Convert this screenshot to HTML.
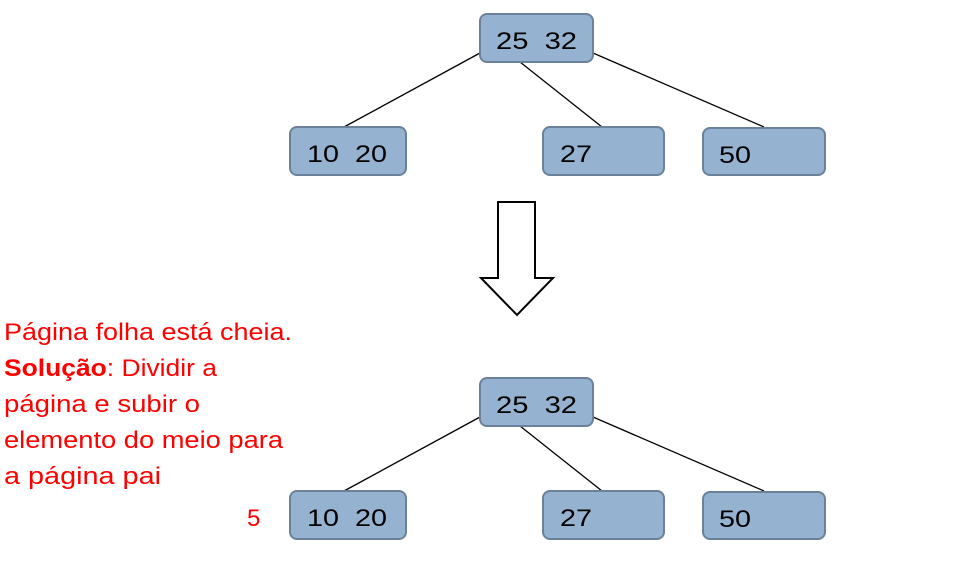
<!DOCTYPE html>
<html><head><meta charset="utf-8"><style>
html,body{margin:0;padding:0;background:#fff;width:964px;height:570px;overflow:hidden}
svg{display:block}
.n{font-family:"Liberation Sans",sans-serif;font-size:24px;fill:#000}
.r{font-family:"Liberation Sans",sans-serif;font-size:24px;fill:#ff0000}
rect{fill:#95b3d0;stroke:#6a8199;stroke-width:2}
line{stroke:#000;stroke-width:1.3}
</style></head><body>
<svg width="964" height="570" viewBox="0 0 964 570">
<g>
<line x1="480" y1="53" x2="344" y2="127"/>
<line x1="520" y1="62" x2="602" y2="127"/>
<line x1="593" y1="53" x2="764" y2="127"/>
<rect x="480" y="14" width="113" height="48" rx="7"/>
<rect x="290" y="127" width="116" height="48" rx="7"/>
<rect x="543" y="127" width="121" height="48" rx="7"/>
<rect x="703" y="128" width="122" height="47" rx="7"/>
<text class="n" x="496" y="49" textLength="81" lengthAdjust="spacingAndGlyphs">25&#160;&#160;32</text>
<text class="n" x="307" y="162" textLength="80" lengthAdjust="spacingAndGlyphs">10&#160;&#160;20</text>
<text class="n" x="560" y="162" textLength="32" lengthAdjust="spacingAndGlyphs">27</text>
<text class="n" x="719" y="163" textLength="32" lengthAdjust="spacingAndGlyphs">50</text>
</g>
<g transform="translate(0,364)">
<line x1="480" y1="53" x2="344" y2="127"/>
<line x1="520" y1="62" x2="602" y2="127"/>
<line x1="593" y1="53" x2="764" y2="127"/>
<rect x="480" y="14" width="113" height="48" rx="7"/>
<rect x="290" y="127" width="116" height="48" rx="7"/>
<rect x="543" y="127" width="121" height="48" rx="7"/>
<rect x="703" y="128" width="122" height="47" rx="7"/>
<text class="n" x="496" y="49" textLength="81" lengthAdjust="spacingAndGlyphs">25&#160;&#160;32</text>
<text class="n" x="307" y="162" textLength="80" lengthAdjust="spacingAndGlyphs">10&#160;&#160;20</text>
<text class="n" x="560" y="162" textLength="32" lengthAdjust="spacingAndGlyphs">27</text>
<text class="n" x="719" y="163" textLength="32" lengthAdjust="spacingAndGlyphs">50</text>
</g>
<polygon points="498,202 535,202 535,278 553,278 517,315 481,278 498,278" fill="#fff" stroke="#000" stroke-width="2"/>
<text class="r" x="4" y="340" textLength="288" lengthAdjust="spacingAndGlyphs">Página folha está cheia.</text>
<text class="r" x="4" y="376" textLength="213" lengthAdjust="spacingAndGlyphs"><tspan font-weight="bold">Solução</tspan>: Dividir a</text>
<text class="r" x="4" y="412" textLength="196" lengthAdjust="spacingAndGlyphs">página e subir o</text>
<text class="r" x="4" y="448" textLength="279" lengthAdjust="spacingAndGlyphs">elemento do meio para</text>
<text class="r" x="4" y="484" textLength="157" lengthAdjust="spacingAndGlyphs">a página pai</text>
<text class="r" x="247" y="526">5</text>
</svg>
</body></html>
